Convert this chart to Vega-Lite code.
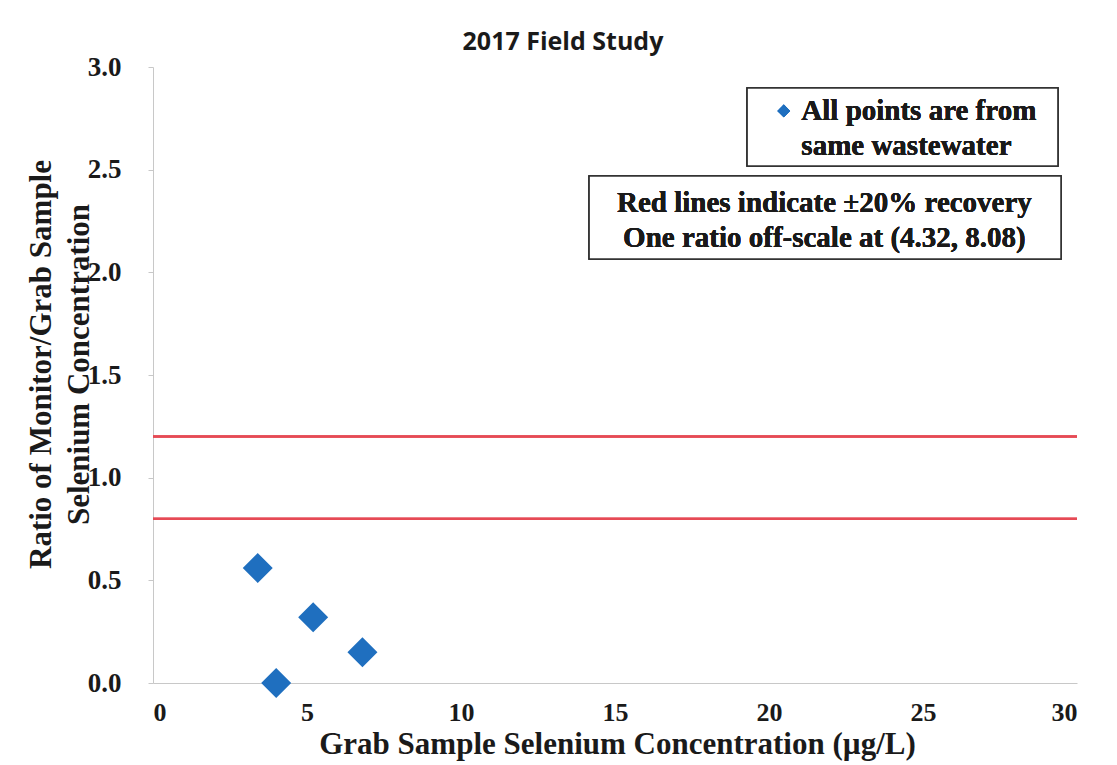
{
  "$schema": "https://vega.github.io/schema/vega-lite/v6.json",
  "autosize": {"type": "none"},
  "padding": {"left": 153, "top": 67, "right": 40, "bottom": 82},
  "width": 924,
  "height": 616,
  "background": "white",
  "config": {
    "view": {"stroke": null},
    "axis": {"grid": false, "domainColor": "#c8c8c8", "tickColor": "#c8c8c8", "labelColor": "#1a1a1a", "titleColor": "#1a1a1a", "labelFont": "Liberation Serif", "titleFont": "Liberation Serif", "labelFontWeight": "bold", "titleFontWeight": "bold"}
  },
  "title": {
    "text": "2017 Field Study",
    "font": "Open Sans",
    "fontSize": 25,
    "fontWeight": "bold",
    "color": "#1a1a1a",
    "anchor": "middle",
    "dx": -52,
    "offset": -2
  },
  "data": {
    "values": [
      {"grab": 3.4, "ratio": 0.56},
      {"grab": 5.2, "ratio": 0.32},
      {"grab": 6.8, "ratio": 0.15},
      {"grab": 4.0, "ratio": 0.0}
    ]
  },
  "layer": [
    {
      "mark": {"type": "rule", "color": "#e64a55", "strokeWidth": 2},
      "encoding": {"y": {"datum": 1.2, "type": "quantitative"}}
    },
    {
      "mark": {"type": "rule", "color": "#e64a55", "strokeWidth": 2},
      "encoding": {"y": {"datum": 0.8, "type": "quantitative"}}
    },
    {
      "mark": {"type": "point", "shape": "diamond", "filled": true, "color": "#1f6fbf", "size": 900, "opacity": 1, "clip": false},
      "encoding": {
        "x": {
          "field": "grab", "type": "quantitative",
          "scale": {"domain": [0, 30], "nice": false, "zero": true},
          "axis": {"values": [0, 5, 10, 15, 20, 25, 30], "tickSize": 0, "labelPadding": 16, "labelFontSize": 26, "title": "Grab Sample Selenium Concentration (µg/L)", "titleFontSize": 31, "titlePadding": 4, "titleX": 464}
        },
        "y": {
          "field": "ratio", "type": "quantitative",
          "scale": {"domain": [0, 3], "nice": false},
          "axis": {"values": [0, 0.5, 1, 1.5, 2, 2.5, 3], "format": ".1f", "tickSize": 5, "labelPadding": 27, "labelFontSize": 27, "title": ["Ratio of Monitor/Grab Sample", "Selenium Concentration"], "titleFontSize": 31, "titleLineHeight": 38, "titleX": -96, "titleY": 297, "titleAlign": "center", "titleBaseline": "bottom", "titleAngle": -90}
        }
      }
    },
    {
      "mark": {"type": "rect", "fill": "white", "stroke": "#333333", "strokeWidth": 1.5},
      "encoding": {
        "x": {"datum": 19.29, "type": "quantitative"},
        "x2": {"datum": 29.38},
        "y": {"datum": 2.898, "type": "quantitative"},
        "y2": {"datum": 2.518}
      }
    },
    {
      "mark": {"type": "rect", "fill": "white", "stroke": "#333333", "strokeWidth": 1.5},
      "encoding": {
        "x": {"datum": 14.16, "type": "quantitative"},
        "x2": {"datum": 29.48},
        "y": {"datum": 2.469, "type": "quantitative"},
        "y2": {"datum": 2.065}
      }
    },
    {
      "mark": {"type": "point", "shape": "diamond", "filled": true, "color": "#1f6fbf", "size": 160, "opacity": 1},
      "encoding": {
        "x": {"datum": 20.48, "type": "quantitative"},
        "y": {"datum": 2.786, "type": "quantitative"}
      }
    },
    {
      "mark": {"type": "text", "font": "Liberation Serif", "fontWeight": "bold", "fontSize": 29, "color": "#1a1a1a", "align": "left", "baseline": "middle"},
      "encoding": {
        "x": {"datum": 21.05, "type": "quantitative"},
        "y": {"datum": 2.786, "type": "quantitative"},
        "text": {"value": "All points are from"}
      }
    },
    {
      "mark": {"type": "text", "font": "Liberation Serif", "fontWeight": "bold", "fontSize": 29, "color": "#1a1a1a", "align": "left", "baseline": "middle"},
      "encoding": {
        "x": {"datum": 21.05, "type": "quantitative"},
        "y": {"datum": 2.615, "type": "quantitative"},
        "text": {"value": "same wastewater"}
      }
    },
    {
      "mark": {"type": "text", "font": "Liberation Serif", "fontWeight": "bold", "fontSize": 29, "color": "#1a1a1a", "align": "center", "baseline": "middle"},
      "encoding": {
        "x": {"datum": 21.8, "type": "quantitative"},
        "y": {"datum": 2.338, "type": "quantitative"},
        "text": {"value": "Red lines indicate ±20% recovery"}
      }
    },
    {
      "mark": {"type": "text", "font": "Liberation Serif", "fontWeight": "bold", "fontSize": 29, "color": "#1a1a1a", "align": "center", "baseline": "middle"},
      "encoding": {
        "x": {"datum": 21.8, "type": "quantitative"},
        "y": {"datum": 2.168, "type": "quantitative"},
        "text": {"value": "One ratio off-scale at (4.32, 8.08)"}
      }
    }
  ]
}
